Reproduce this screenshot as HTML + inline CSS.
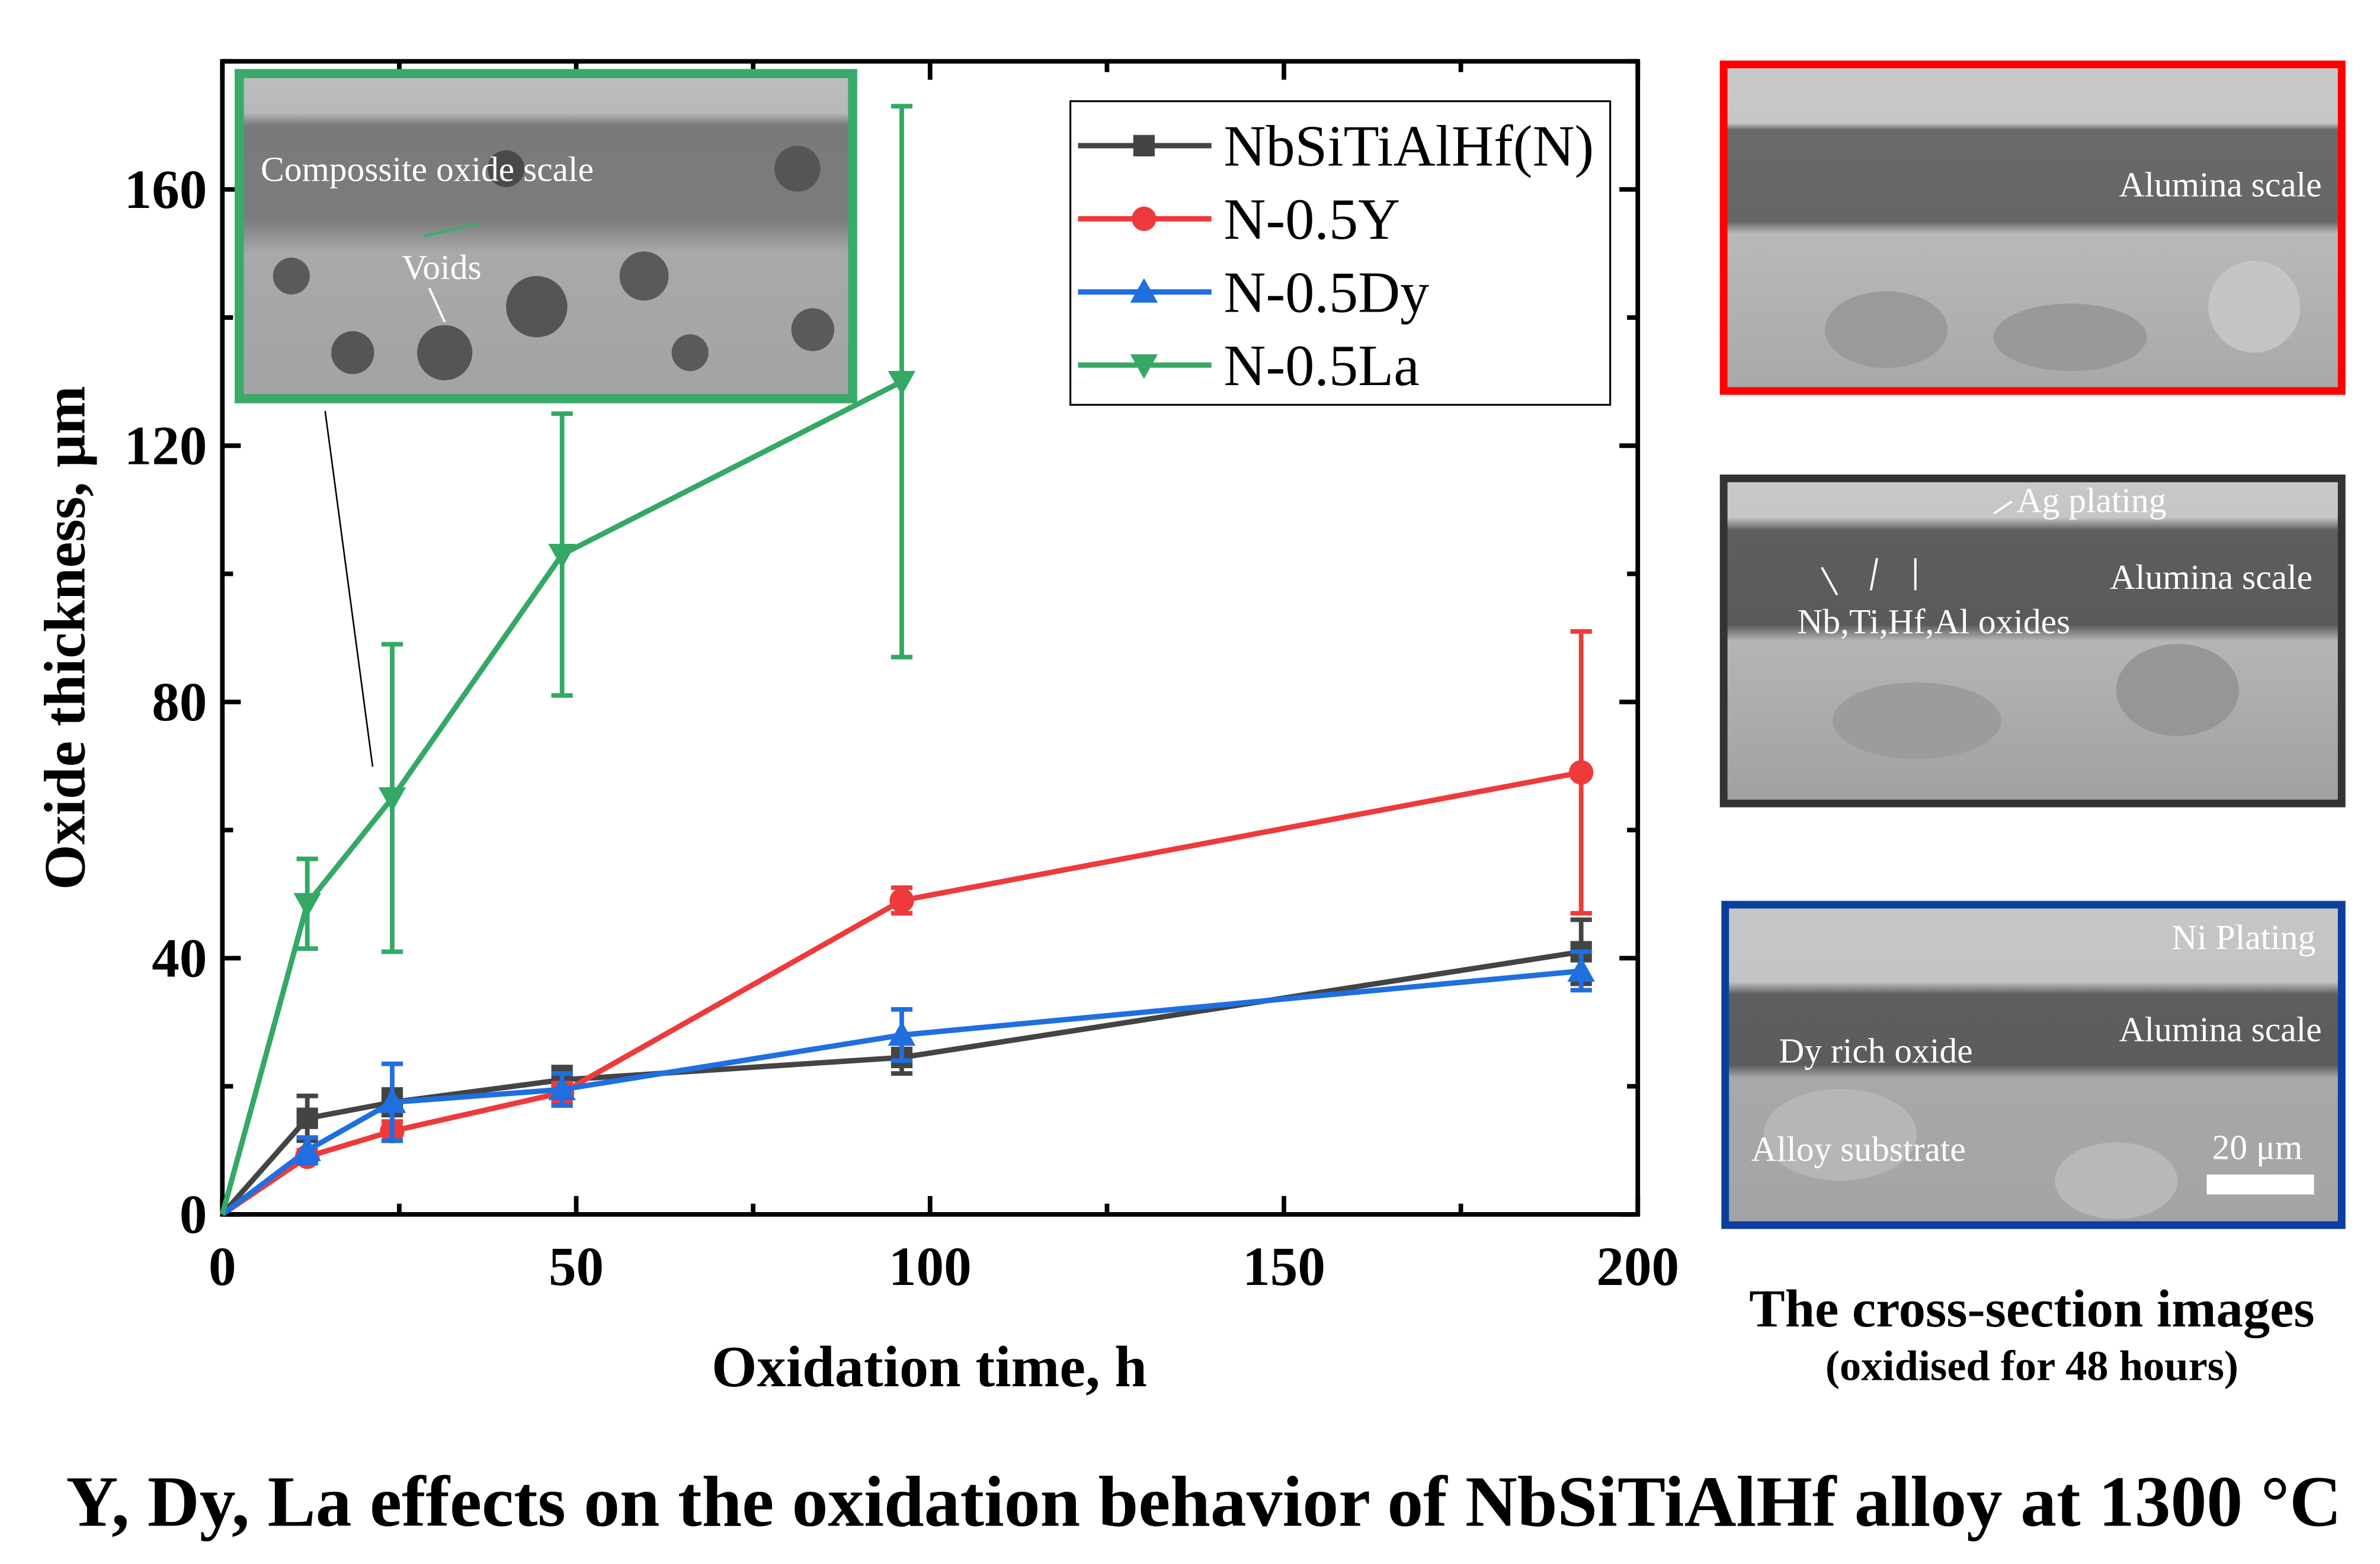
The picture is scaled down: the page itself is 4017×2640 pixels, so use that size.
<!DOCTYPE html>
<html><head><meta charset="utf-8"><style>
html,body{margin:0;padding:0;background:#fff;}
svg{display:block;}
text{font-family:"Liberation Serif",serif;}
</style></head><body>
<svg id="fig" width="4017" height="2640" viewBox="0 0 1552 1020" preserveAspectRatio="none" xmlns="http://www.w3.org/2000/svg">
<defs>
<linearGradient id="gRed" x1="0" y1="0" x2="0" y2="1">
<stop offset="0" stop-color="#c9c9c9"/><stop offset="0.18" stop-color="#c6c6c6"/><stop offset="0.2" stop-color="#6a6a6a"/><stop offset="0.48" stop-color="#666"/><stop offset="0.52" stop-color="#b9b9b9"/><stop offset="1" stop-color="#a8a8a8"/>
</linearGradient>
<linearGradient id="gGray" x1="0" y1="0" x2="0" y2="1">
<stop offset="0" stop-color="#c8c8c8"/><stop offset="0.12" stop-color="#c6c6c6"/><stop offset="0.16" stop-color="#5e5e5e"/><stop offset="0.45" stop-color="#5a5a5a"/><stop offset="0.5" stop-color="#b5b5b5"/><stop offset="1" stop-color="#a0a0a0"/>
</linearGradient>
<linearGradient id="gBlue" x1="0" y1="0" x2="0" y2="1">
<stop offset="0" stop-color="#c6c6c6"/><stop offset="0.24" stop-color="#c4c4c4"/><stop offset="0.28" stop-color="#5e5e5e"/><stop offset="0.5" stop-color="#5c5c5c"/><stop offset="0.54" stop-color="#a8a8a8"/><stop offset="1" stop-color="#a4a4a4"/>
</linearGradient>
<linearGradient id="gInset" x1="0" y1="0" x2="0" y2="1">
<stop offset="0" stop-color="#bdbdbd"/><stop offset="0.12" stop-color="#b8b8b8"/><stop offset="0.16" stop-color="#7a7a7a"/><stop offset="0.45" stop-color="#7c7c7c"/><stop offset="0.55" stop-color="#a9a9a9"/><stop offset="1" stop-color="#a3a3a3"/>
</linearGradient>
</defs>

<g>
<rect x="1124" y="42" width="403" height="213" fill="url(#gRed)" stroke="#f00" stroke-width="5"/>
<ellipse cx="1230" cy="215" rx="40" ry="25" fill="#9a9a9a"/><ellipse cx="1350" cy="220" rx="50" ry="22" fill="#999"/><ellipse cx="1470" cy="200" rx="30" ry="30" fill="#c4c4c4"/>
<text x="1514" y="128" font-size="23" fill="#fff" text-anchor="end">Alumina scale</text>
</g>
<g>
<rect x="1124" y="312" width="403" height="212" fill="url(#gGray)" stroke="#333" stroke-width="5"/>
<ellipse cx="1250" cy="470" rx="55" ry="25" fill="#9c9c9c"/><ellipse cx="1420" cy="450" rx="40" ry="30" fill="#969696"/>
<text x="1315" y="334" font-size="23" fill="#fff">Ag plating</text>
<text x="1508" y="384" font-size="23" fill="#fff" text-anchor="end">Alumina scale</text>
<text x="1172" y="413" font-size="23" fill="#fff">Nb,Ti,Hf,Al oxides</text>
<path d="M1300 335 L1312 327 M1198 388 L1188 370 M1220 385 L1224 364 M1249 385 L1249 364" stroke="#fff" stroke-width="1.5"/>
</g>
<g>
<rect x="1125" y="590" width="402" height="209" fill="url(#gBlue)" stroke="#0b3f9e" stroke-width="5"/>
<ellipse cx="1200" cy="740" rx="50" ry="30" fill="#b6b6b6"/><ellipse cx="1380" cy="770" rx="40" ry="25" fill="#b8b8b8"/>
<text x="1510" y="619" font-size="23" fill="#fff" text-anchor="end">Ni Plating</text>
<text x="1514" y="679" font-size="23" fill="#fff" text-anchor="end">Alumina scale</text>
<text x="1160" y="693" font-size="23" fill="#fff">Dy rich oxide</text>
<text x="1142" y="757" font-size="23" fill="#fff">Alloy substrate</text>
<text x="1472" y="756" font-size="23" fill="#fff" text-anchor="middle">20 μm</text>
<rect x="1439" y="766" width="70" height="13" fill="#fff"/>
</g>
<text x="1325" y="865" font-size="35" font-weight="bold" text-anchor="middle">The cross-section images</text>
<text x="1325" y="900" font-size="28" font-weight="bold" text-anchor="middle">(oxidised for 48 hours)</text>
<text x="785" y="995" font-size="47" font-weight="bold" text-anchor="middle">Y, Dy, La effects on the oxidation behavior of NbSiTiAlHf alloy at 1300 °C</text>

<g id="axes"></g>
<g id="marks"></g>

<g>
<rect x="156" y="48" width="400" height="212" fill="url(#gInset)" stroke="#3aaa6a" stroke-width="6"/>
<circle cx="350" cy="200" r="20" fill="#555"/><circle cx="290" cy="230" r="18" fill="#555"/><circle cx="520" cy="110" r="15" fill="#555"/><circle cx="230" cy="230" r="14" fill="#555"/><circle cx="420" cy="180" r="16" fill="#5a5a5a"/><circle cx="530" cy="215" r="14" fill="#5a5a5a"/><circle cx="330" cy="110" r="12" fill="#4a4a4a"/><circle cx="190" cy="180" r="12" fill="#5a5a5a"/><circle cx="450" cy="230" r="12" fill="#5a5a5a"/>
<text x="170" y="118" font-size="23" fill="#fff">Compossite oxide scale</text>
<text x="262" y="182" font-size="23" fill="#fff">Voids</text>
<line x1="276" y1="154" x2="312" y2="146" stroke="#2fb36a" stroke-width="1.5"/>
<line x1="280" y1="188" x2="290" y2="210" stroke="#fff" stroke-width="1.5"/>
</g>
<line x1="212" y1="268" x2="243" y2="500" stroke="#000" stroke-width="1"/>

<g>
<rect x="698" y="66" width="352" height="198" fill="#fff" stroke="#000" stroke-width="1.2"/>
<g id="legend-items"></g>
</g>
</svg>
<script>
const categories = [0, 12, 24, 48, 96, 192];
const seriesNames = ["NbSiTiAlHf(N)", "N-0.5Y", "N-0.5Dy", "N-0.5La"];
const valuesN  = [0, 15, 17.5, 21, 24.5, 41];
const errN     = [0, 3.5, 2, 2, 2.5, 5];
const valuesY  = [0, 9, 13, 19, 49, 69];
const errY     = [0, 1, 1.5, 1.5, 2, 22];
const valuesDy = [0, 10, 17.5, 19.5, 28, 38];
const errDy    = [0, 2, 6, 2.5, 4, 3];
const valuesLa = [0, 48.5, 65, 103, 130];
const errLa    = [0, 7, 24, 22, 43];
const xTicks = [0, 50, 100, 150, 200];
const yTicks = [0, 40, 80, 120, 160];

const NS = "http://www.w3.org/2000/svg";
const L = 145, R = 1068, T = 40, B = 792;
const xMax = 200, yMax = 180;
function sx(v){ return L + (R - L) * v / xMax; }
function sy(v){ return B - (B - T) * v / yMax; }
function mk(tag, attrs, parent){
  const e = document.createElementNS(NS, tag);
  for (const k in attrs) e.setAttribute(k, attrs[k]);
  parent.appendChild(e);
  return e;
}
const axes = document.getElementById("axes");
const marks = document.getElementById("marks");

const frame = mk("rect", {x:L, y:T, width:R-L, height:B-T, fill:"none", stroke:"#000", "stroke-width":3}, axes);



for (let v = 0; v <= xMax; v += 25) {
  const major = v % 50 === 0, len = major ? 12 : 7, x = sx(v);
  const t1 = mk("line", {x1:x, y1:B, x2:x, y2:B-len, stroke:"#000", "stroke-width":3}, axes);
  
  
  const t2 = mk("line", {x1:x, y1:T, x2:x, y2:T+len, stroke:"#000", "stroke-width":3}, axes);
  
  
}
xTicks.forEach(v => {
  const t = mk("text", {x:sx(v), y:B+46, "font-size":36, "font-weight":"bold", "text-anchor":"middle"}, axes);
  t.textContent = v;
  
  
});
for (let v = 0; v <= yMax; v += 20) {
  const major = v % 40 === 0, len = major ? 12 : 7, y = sy(v);
  const t1 = mk("line", {x1:L, y1:y, x2:L+len, y2:y, stroke:"#000", "stroke-width":3}, axes);
  
  
  const t2 = mk("line", {x1:R, y1:y, x2:R-len, y2:y, stroke:"#000", "stroke-width":3}, axes);
  
  
}
yTicks.forEach(v => {
  const t = mk("text", {x:L-10, y:sy(v)+12, "font-size":36, "font-weight":"bold", "text-anchor":"end"}, axes);
  t.textContent = v;
  
  
});
const xt = mk("text", {x:606, y:904, "font-size":38, "font-weight":"bold", "text-anchor":"middle"}, axes);
xt.textContent = "Oxidation time, h";


const yt = mk("text", {x:0, y:0, "font-size":38, "font-weight":"bold", "text-anchor":"middle", transform:"translate(55,416) rotate(-90)"}, axes);
yt.textContent = "Oxide thickness, μm";



function marker(shape, x, y, color, parent){
  let e;
  if (shape === "square") e = mk("rect", {x:x-7, y:y-7, width:14, height:14, fill:color}, parent);
  else if (shape === "circle") e = mk("circle", {cx:x, cy:y, r:8, fill:color}, parent);
  else if (shape === "up") e = mk("polygon", {points:`${x},${y-9} ${x-9},${y+7} ${x+9},${y+7}`, fill:color}, parent);
  else e = mk("polygon", {points:`${x},${y+9} ${x-9},${y-7} ${x+9},${y-7}`, fill:color}, parent);
  return e;
}
const series = [
  {name:seriesNames[0], vals:valuesN, errs:errN, color:"#444444", shape:"square", key:"nbsitialhf"},
  {name:seriesNames[1], vals:valuesY, errs:errY, color:"#ee3a3a", shape:"circle", key:"n-05y"},
  {name:seriesNames[2], vals:valuesDy, errs:errDy, color:"#1f6fe0", shape:"up", key:"n-05dy"},
  {name:seriesNames[3], vals:valuesLa, errs:errLa, color:"#35a866", shape:"down", key:"n-05la"}
];
series.forEach(s => {
  const g = mk("g", {}, marks);
  
  
  s.vals.forEach((v, i) => {
    const e = s.errs[i];
    if (e > 0) {
      const x = sx(categories[i]);
      const eb = mk("path", {d:`M${x} ${sy(v+e)} V${sy(v-e)} M${x-7} ${sy(v+e)} H${x+7} M${x-7} ${sy(v-e)} H${x+7}`, stroke:s.color, "stroke-width":3, fill:"none"}, g);
      
      
    }
  });
  const pts = s.vals.map((v, i) => sx(categories[i]) + "," + sy(v)).join(" ");
  const pl = mk("polyline", {points:pts, fill:"none", stroke:s.color, "stroke-width":3.5}, g);
  
  
  s.vals.forEach((v, i) => {
    if (i === 0) return;
    const m = marker(s.shape, sx(categories[i]), sy(v), s.color, g);
    
    
  });
});

const li = document.getElementById("legend-items");
series.forEach((s, i) => {
  const y = 95 + i * 47.7;
  const g = mk("g", {}, li);
  
  
  mk("line", {x1:703, y1:y, x2:790, y2:y, stroke:s.color, "stroke-width":3.5}, g);
  marker(s.shape, 746, y, s.color, g);
  const t = mk("text", {x:798, y:y+13, "font-size":38}, g);
  t.textContent = s.name;
});
</script>
</body></html>
